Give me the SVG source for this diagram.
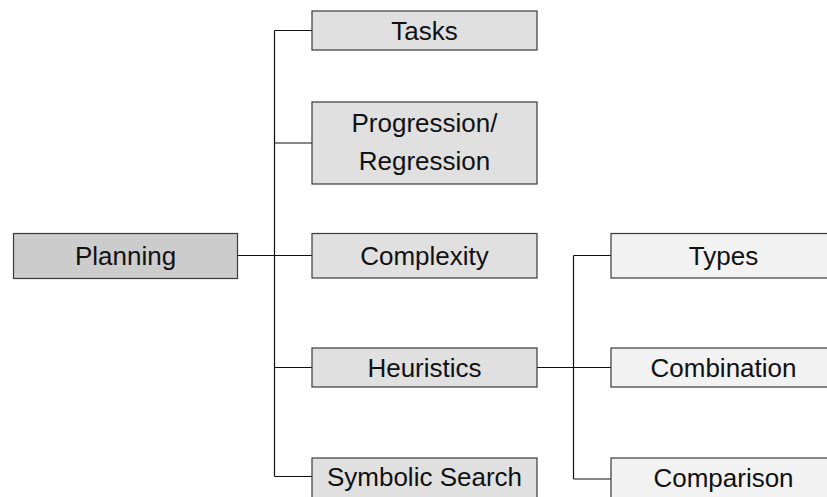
<svg xmlns="http://www.w3.org/2000/svg" width="827" height="497" viewBox="0 0 827 497">
<style>
rect{stroke:#3a3a3a;stroke-width:1.2}
.l0{fill:#cccccc}
.l1{fill:#e0e0e0}
.l2{fill:#f2f2f2}
text{font-family:"Liberation Sans",Arial,sans-serif;font-size:26px;fill:#111;text-anchor:middle}
.c{fill:none;stroke:#111;stroke-width:1.2}
</style>
<g id="connectors">
<path class="c" d="M274.5 30.5V476.5M237.5 255.5H312M274.5 30.5H312M274.5 143H312M274.5 367.5H312M274.5 476.5H312"/>
<path class="c" d="M573.5 255.5V479M537 367.5H611M573.5 255.5H611M573.5 479H611"/>
</g>
<g id="planning"><rect class="l0" x="13.5" y="233.5" width="224" height="45"/><text x="125.5" y="264.5">Planning</text></g>
<g id="tasks"><rect class="l1" x="312" y="11" width="225" height="39"/><text x="424.5" y="39.5">Tasks</text></g>
<g id="progression"><rect class="l1" x="312" y="102" width="225" height="82"/><text x="424.5" y="132">Progression/</text><text x="424.5" y="170">Regression</text></g>
<g id="complexity"><rect class="l1" x="312" y="233.5" width="225" height="44.5"/><text x="424.5" y="264.5">Complexity</text></g>
<g id="heuristics"><rect class="l1" x="312" y="348" width="225" height="39"/><text x="424.5" y="376.5">Heuristics</text></g>
<g id="symbolic"><rect class="l1" x="312" y="458" width="225" height="42"/><text x="424.5" y="486">Symbolic Search</text></g>
<g id="types"><rect class="l2" x="611" y="233.5" width="225" height="44.5"/><text x="723.5" y="264.5">Types</text></g>
<g id="combination"><rect class="l2" x="611" y="348" width="225" height="39"/><text x="723.5" y="376.5">Combination</text></g>
<g id="comparison"><rect class="l2" x="611" y="458" width="225" height="42"/><text x="723.5" y="487">Comparison</text></g>
</svg>
